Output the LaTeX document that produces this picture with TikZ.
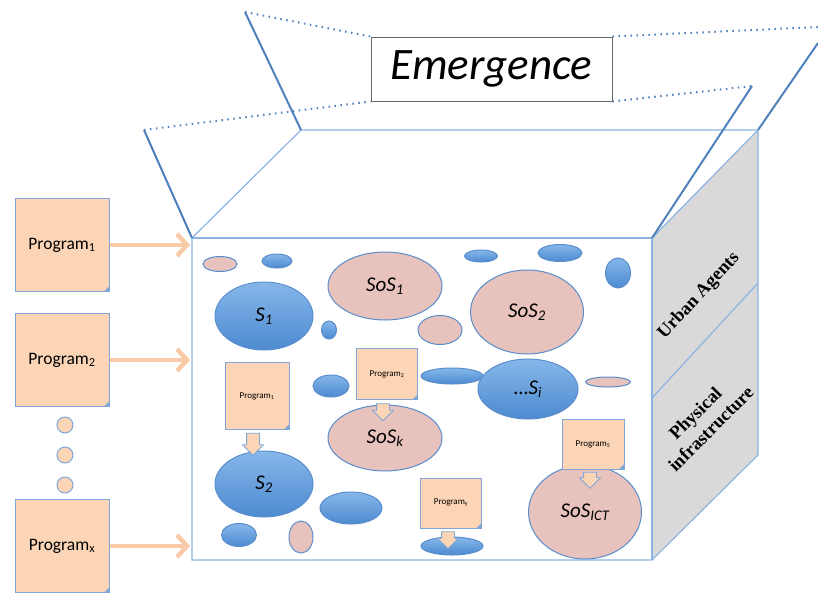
\documentclass[tikz,border=0pt]{standalone}
\usepackage{fontspec}
\setmainfont{Carlito}
\newfontfamily\sidefont{Liberation Serif}
\usetikzlibrary{shapes.geometric,shapes.arrows,arrows.meta}

\definecolor{peach}{HTML}{FBD5B6}
\definecolor{peacharrow}{HTML}{F8CAA8}
\definecolor{progline}{HTML}{7FA6D8}
\definecolor{boxline}{HTML}{8DB3E2}
\definecolor{flapline}{HTML}{4F81BD}
\definecolor{blueline}{HTML}{5A8DCB}
\definecolor{bluetop}{HTML}{86B7EA}
\definecolor{bluebot}{HTML}{4C8AD0}
\definecolor{pinkfill}{HTML}{E8C2BD}
\definecolor{sidegray}{HTML}{D9D9D9}

\begin{document}
\begin{tikzpicture}[x=1pt, y=-1pt,
    prog/.style={rectangle, draw=progline, fill=peach, line width=1pt, inner sep=0pt,
      path picture={\fill[progline] ([xshift=-5pt]path picture bounding box.south east)
        -- ([yshift=5pt]path picture bounding box.south east)
        -- (path picture bounding box.south east) -- cycle;}},
    bigprog/.style={prog, minimum width=94pt, minimum height=93pt, font=\fontsize{17.5}{20}\selectfont},
    smallprog/.style={prog, font=\fontsize{9}{10}\selectfont},
    blueblob/.style={ellipse, draw=blueline, top color=bluetop, bottom color=bluebot, line width=1pt,
      inner sep=0pt, font=\fontsize{21}{24}\selectfont\itshape},
    pinkblob/.style={ellipse, draw=blueline, fill=pinkfill, line width=1pt,
      inner sep=0pt, font=\fontsize{21}{24}\selectfont\itshape},
    dnarrow/.style={single arrow, draw=progline, fill=peach, line width=0.8pt, rotate=-90,
      inner xsep=0pt, inner ysep=6pt, single arrow head extend=4pt, minimum height=#1},
    feed/.style={-{Straight Barb[length=10pt,width=22pt]}, line width=4.5pt, color=peacharrow},
    dot/.style={circle, draw=progline, fill=peach, line width=1pt, minimum size=16pt, inner sep=0pt},
    flap/.style={draw=flapline, line width=2pt},
    dotline/.style={draw=flapline, line width=2pt, dash pattern=on 1.5pt off 4.5pt},
    face/.style={draw=boxline, line width=1.2pt},
    sidelabel/.style={font=\sidefont\bfseries\fontsize{18.5}{22}\selectfont, inner sep=0pt}]

    \useasboundingbox (0,0) rectangle (818,592);

    % box corners
    \coordinate (ftl) at (192,238);
    \coordinate (ftr) at (652,238);
    \coordinate (fbr) at (652,560);
    \coordinate (fbl) at (192,560);
    \coordinate (btl) at (301,130);
    \coordinate (btr) at (758,130);
    \coordinate (bbr) at (758,455);
    \coordinate (dl) at (652,398);
    \coordinate (dr) at (758,283);

    % flap tips
    \coordinate (lf) at (144,130);
    \coordinate (lb) at (245,12);
    \coordinate (rf) at (752,86);
    \coordinate (rb) at (818,43);
    \coordinate (rt) at (818,27);

    \fill[sidegray] (ftr) -- (btr) -- (bbr) -- (fbr) -- cycle;
    \fill[white] (ftl) -- (btl) -- (btr) -- (ftr) -- cycle;
    \path[face] (fbl) -- (ftl) -- (btl) -- (btr) -- (bbr) -- (fbr) -- cycle;
    \path[face] (ftl) -- (ftr) -- (fbr);
    \path[face] (ftr) -- (btr);
    \path[face] (dl) -- (dr);

    \node (em) [draw=black!60, fill=white, line width=1pt, minimum width=241pt, minimum height=64pt,
      font=\fontsize{45}{50}\selectfont\itshape] at (491.5,69) {Emergence};

    \path[flap] (ftl) -- (lf);
    \path[flap] (btl) -- (lb);
    \path[flap] (ftr) -- (rf);
    \path[flap] (btr) -- (rb);
    \path[dotline] (lf) -- (em.south west);
    \path[dotline] (lb) -- (em.north west);
    \path[dotline] (em.south east) -- (rf);
    \path[dotline] (em.north east) -- (rt);

    \node (ua) [sidelabel, rotate=47] at (699,296) {Urban Agents};
    \node (pi) [sidelabel, rotate=45, align=center] at (703,421) {Physical\\infrastructure};

    % programs outside
    \node (p1) [bigprog] at (62,245) {Program\textsubscript{1}};
    \node (p2) [bigprog] at (62,360) {Program\textsubscript{2}};
    \node (px) [bigprog] at (62,546) {Program\textsubscript{x}};
    \node (d1) [dot] at (65,425) {};
    \node (d2) [dot] at (65,455) {};
    \node (d3) [dot] at (65,485) {};

    \coordinate (f1) at (190,245);
    \coordinate (f2) at (190,360);
    \coordinate (fx) at (190,546);
    \draw[feed] (p1) -- (f1);
    \draw[feed] (p2) -- (f2);
    \draw[feed] (px) -- (fx);

    % systems inside
    \node (e1) [pinkblob, minimum width=34pt, minimum height=15pt] at (220,264) {};
    \node (e2) [blueblob, minimum width=30pt, minimum height=14pt] at (277,261) {};
    \node (s1) [blueblob, minimum width=98pt, minimum height=68pt] at (264,316) {S\textsubscript{1}};
    \node (e3) [blueblob, minimum width=15pt, minimum height=18pt] at (329,330) {};
    \node (sos1) [pinkblob, minimum width=114pt, minimum height=68pt] at (385,286) {SoS\textsubscript{1}};
    \node (e4) [pinkblob, minimum width=44pt, minimum height=29pt] at (440,330) {};
    \node (s2) [blueblob, minimum width=98pt, minimum height=66pt] at (264,484) {S\textsubscript{2}};
    \node (e5) [blueblob, minimum width=36pt, minimum height=22pt] at (331,386) {};
    \node (sosk) [pinkblob, minimum width=114pt, minimum height=66pt] at (385,438) {SoS\textsubscript{k}};
    \node (e6) [blueblob, minimum width=62pt, minimum height=32pt] at (351,508) {};
    \node (e7) [blueblob, minimum width=35pt, minimum height=23pt] at (239,535) {};
    \node (e8) [pinkblob, minimum width=24pt, minimum height=32pt] at (301,537) {};
    \node (e9) [blueblob, minimum width=33pt, minimum height=12pt] at (481,256) {};
    \node (e10) [blueblob, minimum width=44pt, minimum height=17pt] at (560,253) {};
    \node (e11) [blueblob, minimum width=25pt, minimum height=30pt] at (618,273) {};
    \node (sos2) [pinkblob, minimum width=113pt, minimum height=84pt] at (527,312) {SoS\textsubscript{2}};
    \node (e12) [blueblob, minimum width=62pt, minimum height=16pt] at (452,376) {};
    \node (si) [blueblob, minimum width=100pt, minimum height=60pt] at (528,389) {…S\textsubscript{i}};
    \node (e13) [pinkblob, minimum width=45pt, minimum height=10pt] at (608,382) {};
    \node (sosict) [pinkblob, minimum width=113pt, minimum height=94pt] at (585,512) {SoS\textsubscript{ICT}};
    \node (e14) [blueblob, minimum width=62pt, minimum height=18pt] at (452,546) {};

    % programs inside
    \node (ip1) [smallprog, minimum width=64pt, minimum height=67pt] at (257,396) {Program\textsubscript{1}};
    \node (ip2) [smallprog, minimum width=61pt, minimum height=51pt] at (387,374) {Program\textsubscript{2}};
    \node (ip5) [smallprog, minimum width=62pt, minimum height=50pt] at (593,444) {Program\textsubscript{5}};
    \node (ipy) [smallprog, minimum width=61pt, minimum height=50pt] at (451,503) {Program\textsubscript{y}};
    \node (a1) [dnarrow=22pt] at (253,441) {};
    \node (a2) [dnarrow=17pt] at (383,409) {};
    \node (a5) [dnarrow=16pt] at (590,477) {};
    \node (ay) [dnarrow=17pt] at (448,537) {};

\end{tikzpicture}
\end{document}
